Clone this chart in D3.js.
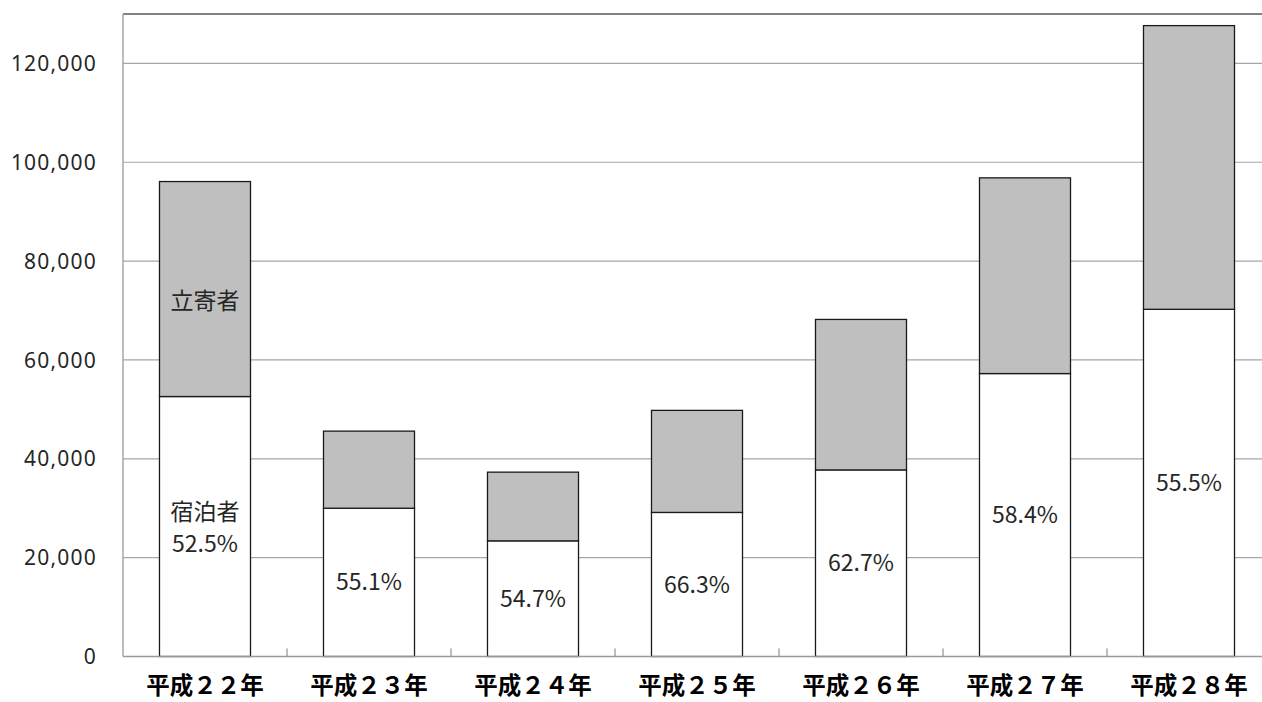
<!doctype html>
<html lang="ja">
<head>
<meta charset="utf-8">
<style>
	body { margin: 0; background: #fff; }
	svg { display: block; }
	text { fill: #262626; }
</style>
</head>
<body>
<script src="https://d3js.org/d3.v7.min.js"></script>
<div id="chart"></div>
<script>

	// data
	var years = ["平成２２年", "平成２３年", "平成２４年", "平成２５年", "平成２６年", "平成２７年", "平成２８年"];
	var stayers = [52600, 30000, 23400, 29150, 37750, 57250, 70250];   // 宿泊者 (white)
	var visitors = [43500, 15600, 13900, 20650, 30450, 39600, 57400];  // 立寄者 (grey)
	var shareLabels = ["52.5%", "55.1%", "54.7%", "66.3%", "62.7%", "58.4%", "55.5%"];
	var yTicks = [0, 20000, 40000, 60000, 80000, 100000, 120000];

	var W = 1262, H = 702;
	var plotLeft = 123, plotTop = 14, plotBottom = 656.5;
	var step = 164;

	var svg = d3.select("#chart").append("svg")
		.attr("width", W)
		.attr("height", H);

	var x = d3.scaleBand()
		.domain(years)
		.range([plotLeft, plotLeft + step * years.length])
		.paddingInner(0.445)
		.paddingOuter(0.2225);

	var y = d3.scaleLinear()
		.domain([0, 130000])
		.range([plotBottom, plotTop]);

	// gridlines
	svg.append("g")
		.selectAll("line")
		.data(yTicks.slice(1))
		.enter().append("line")
		.attr("x1", plotLeft).attr("x2", W)
		.attr("y1", d => y(d)).attr("y2", d => y(d))
		.style("stroke", "#a6a6a6")
		.style("stroke-width", 1.2);

	// top border
	svg.append("line")
		.attr("x1", plotLeft).attr("x2", W)
		.attr("y1", y(130000)).attr("y2", y(130000))
		.style("stroke", "#595959")
		.style("stroke-width", 1.5);

	// y axis labels
	svg.append("g")
		.selectAll("text")
		.data(yTicks)
		.enter().append("text")
		.attr("x", 97)
		.attr("y", d => y(d))
		.attr("dy", "0.36em")
		.attr("text-anchor", "end")
		.style("font-family", "'Noto Sans', 'DejaVu Sans', sans-serif")
		.style("font-size", "21px")
		.style("letter-spacing", "1.2px")
		.text(d => d3.format(",")(d));

	// stacked bars
	var rows = years.map(function(yr, i) {
		return { year: yr, s: stayers[i], v: visitors[i], label: shareLabels[i] };
	});

	var bars = svg.append("g");
	bars.selectAll("rect.stay")
		.data(rows)
		.enter().append("rect")
		.attr("class", "stay")
		.attr("x", d => x(d.year))
		.attr("width", x.bandwidth())
		.attr("y", d => y(d.s))
		.attr("height", d => y(0) - y(d.s))
		.style("fill", "#ffffff")
		.style("stroke", "#1a1a1a")
		.style("stroke-width", 1.3);

	bars.selectAll("rect.visit")
		.data(rows)
		.enter().append("rect")
		.attr("class", "visit")
		.attr("x", d => x(d.year))
		.attr("width", x.bandwidth())
		.attr("y", d => y(d.s + d.v))
		.attr("height", d => y(d.s) - y(d.s + d.v))
		.style("fill", "#bfbfbf")
		.style("stroke", "#1a1a1a")
		.style("stroke-width", 1.3);

	// axis lines + inner ticks at category boundaries
	svg.append("line")
		.attr("x1", plotLeft).attr("x2", W)
		.attr("y1", plotBottom).attr("y2", plotBottom)
		.style("stroke", "#999")
		.style("stroke-width", 1.3);
	svg.append("line")
		.attr("x1", plotLeft).attr("x2", plotLeft)
		.attr("y1", plotTop).attr("y2", plotBottom)
		.style("stroke", "#999")
		.style("stroke-width", 1.3);
	var half = x.step() * x.paddingInner() / 2;
	svg.append("g")
		.selectAll("line")
		.data(years.slice(1))
		.enter().append("line")
		.attr("x1", d => x(d) - half)
		.attr("x2", d => x(d) - half)
		.attr("y1", plotBottom - 8).attr("y2", plotBottom)
		.style("stroke", "#999")
		.style("stroke-width", 1.3);

	// category labels
	svg.append("g")
		.selectAll("text")
		.data(years)
		.enter().append("text")
		.attr("x", d => x(d) + x.bandwidth() / 2)
		.attr("y", 686)
		.attr("dy", "0.36em")
		.attr("text-anchor", "middle")
		.style("font-family", "'Noto Sans CJK JP', sans-serif")
		.style("font-weight", "bold")
		.style("font-size", "23.5px")
		.style("fill", "#000")
		.text(d => d);

	// share labels in the white part
	var labelFont = "'Noto Sans CJK JP', 'Noto Sans', sans-serif";
	svg.append("g")
		.selectAll("text")
		.data(rows)
		.enter().append("text")
		.attr("x", d => x(d.year) + x.bandwidth() / 2)
		.attr("y", function(d, i) { return i === 0 ? y(d.s / 2) + 17 : y(d.s / 2); })
		.attr("dy", "0.35em")
		.attr("text-anchor", "middle")
		.style("font-family", labelFont)
		.style("font-size", "23px")
		.text(d => d.label);

	// series names inside the first bar
	svg.append("text")
		.attr("x", x(years[0]) + x.bandwidth() / 2)
		.attr("y", y(stayers[0] / 2) - 15)
		.attr("dy", "0.35em")
		.attr("text-anchor", "middle")
		.style("font-family", labelFont)
		.style("font-size", "23px")
		.text("宿泊者");
	svg.append("text")
		.attr("x", x(years[0]) + x.bandwidth() / 2)
		.attr("y", y(stayers[0] + visitors[0] / 2) + 12)
		.attr("dy", "0.35em")
		.attr("text-anchor", "middle")
		.style("font-family", labelFont)
		.style("font-size", "23px")
		.text("立寄者");

</script>
</body>
</html>
